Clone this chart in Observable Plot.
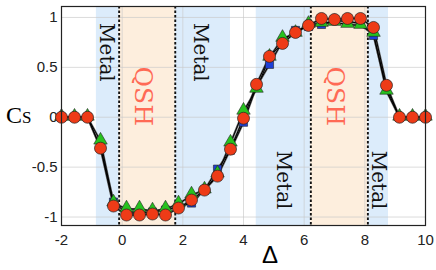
<!DOCTYPE html>
<html>
<head>
<meta charset="utf-8">
<script src="https://cdn.jsdelivr.net/npm/d3@7"></script>
<script src="https://cdn.jsdelivr.net/npm/@observablehq/plot@0.6"></script>
<style>
body { margin: 0; background: #fff; }
#chart svg { display: block; overflow: visible; }
</style>
</head>
<body>
<div id="chart"></div>
<script>
// Data
const delta = [-2, -1.571, -1.143, -0.714, -0.286, 0.143, 0.571, 1, 1.429, 1.857, 2.286, 2.714, 3.143, 3.571, 4, 4.429, 4.857, 5.286, 5.714, 6.143, 6.571, 7, 7.429, 7.857, 8.286, 8.714, 9.143, 9.571, 10];
const seriesBlue  = [0, 0, 0, -0.30, -0.85, -0.96, -0.96, -0.95, -0.93, -0.90, -0.86, -0.73, -0.52, -0.33, -0.05, 0.31, 0.53, 0.76, 0.87, 0.91, 0.93, 0.97, 0.96, 0.94, 0.82, 0.29, 0, 0, 0];
const seriesGreen = [0, 0, 0, -0.24, -0.86, -0.92, -0.92, -0.94, -0.92, -0.87, -0.78, -0.73, -0.57, -0.26, 0.06, 0.28, 0.60, 0.79, 0.84, 0.93, 0.94, 0.95, 0.93, 0.92, 0.84, 0.26, 0, 0, 0];
const seriesRed   = [0, 0, 0, -0.31, -0.89, -0.98, -0.98, -0.97, -0.98, -0.91, -0.83, -0.73, -0.59, -0.32, -0.01, 0.33, 0.61, 0.74, 0.85, 0.92, 0.99, 0.98, 0.99, 0.99, 0.90, 0.32, 0, 0, 0];

const metalBands = [[-0.85, 3.57], [4.42, 6.22], [8.1, 8.78]];
const qshBands = [[-0.1, 1.75], [6.22, 8.1]];
const boundaries = [-0.1, 1.75, 6.22, 8.1];

const regionLabels = ["Metal", "QSH", "Metal", "Metal", "QSH", "Metal"];
const regionLabelX = [-0.52, 0.70, 2.58, 5.32, 7.03, 8.45];
const regionLabelY = [0.65, 0.21, 0.65, -0.63, 0.21, -0.63];

const xTicks = [-2, 0, 2, 4, 6, 8, 10];
const yTicks = [-1, -0.5, 0, 0.5, 1];

const mk = (ys) => delta.map((x, i) => ({x, y: ys[i]}));
const blue = mk(seriesBlue), green = mk(seriesGreen), red = mk(seriesRed);
const labels = regionLabels.map((t, i) => ({t, x: regionLabelX[i], y: regionLabelY[i]}));

const plot = Plot.plot({
  width: 436,
  height: 270,
  marginLeft: 61,
  marginRight: 11,
  marginTop: 6,
  marginBottom: 45,
  style: {fontFamily: "'Liberation Sans', Arial, sans-serif", fontSize: "15px", color: "#222", background: "#fff"},
  x: {domain: [-2, 10], ticks: xTicks, tickFormat: d => String(d), label: null, tickSize: 0, tickPadding: 9},
  y: {domain: [-1.085, 1.11], ticks: yTicks, tickFormat: d => String(d), label: null, tickSize: 0, tickPadding: 4},
  marks: [
    Plot.rect(metalBands, {x1: d => d[0], x2: d => d[1], fill: "#dcecfb"}),
    Plot.rect(qshBands, {x1: d => d[0], x2: d => d[1], fill: "#fdeedd"}),
    Plot.gridX(xTicks, {stroke: "#c8c8c8", strokeOpacity: 0.8, strokeWidth: 0.8}),
    Plot.gridY(yTicks, {stroke: "#c8c8c8", strokeOpacity: 0.8, strokeWidth: 0.8}),
    Plot.ruleX(boundaries, {stroke: "#111", strokeWidth: 1.9, strokeDasharray: "2.5,2"}),
    Plot.text(labels.filter(d => d.t === "Metal"), {x: "x", y: "y", text: "t", rotate: 90, fontFamily: "'DejaVu Serif', serif", fontSize: 20, fill: "#111"}),
    Plot.text(labels.filter(d => d.t === "QSH"), {x: "x", y: "y", text: "t", rotate: 90, fontFamily: "'DejaVu Serif', serif", fontSize: 25, fill: "#ff6a55"}),
    Plot.line(blue, {x: "x", y: "y", stroke: "#666", strokeWidth: 2.2}),
    Plot.line(green, {x: "x", y: "y", stroke: "#666", strokeWidth: 2.2}),
    Plot.line(red, {x: "x", y: "y", stroke: "#666", strokeWidth: 2.2}),
    Plot.line(blue, {x: "x", y: "y", stroke: "#000", strokeWidth: 1}),
    Plot.line(green, {x: "x", y: "y", stroke: "#000", strokeWidth: 1}),
    Plot.line(red, {x: "x", y: "y", stroke: "#000", strokeWidth: 1}),
    Plot.dot(blue, {x: "x", y: "y", symbol: "square", r: 4.6, fill: "#1e3fd6", stroke: "#222", strokeWidth: 0.6}),
    Plot.dot(green, {x: "x", y: "y", symbol: "triangle", r: 5, fill: "#27c21f", stroke: "#222", strokeWidth: 0.6, dy: -1}),
    Plot.dot(red, {x: "x", y: "y", symbol: "circle", r: 6, fill: "#ee3b17", stroke: "#222", strokeWidth: 0.7}),
    Plot.frame({stroke: "#222", strokeWidth: 1.2})
  ]
});
document.getElementById("chart").appendChild(plot);

// Axis titles
const svg = d3.select(plot);
const cs = svg.append("text").attr("x", 6).attr("y", 123).attr("fill", "#000")
  .attr("text-anchor", "start")
  .attr("font-family", "'Liberation Serif', 'Times New Roman', serif");
cs.append("tspan").attr("font-size", 24).text("C");
cs.append("tspan").attr("font-size", 17).text("S");
svg.append("text").attr("x", 270).attr("y", 263).attr("text-anchor", "middle")
  .attr("font-family", "'Liberation Sans', Arial, sans-serif").attr("font-size", 24)
  .attr("fill", "#000").text("Δ");
</script>
</body>
</html>
